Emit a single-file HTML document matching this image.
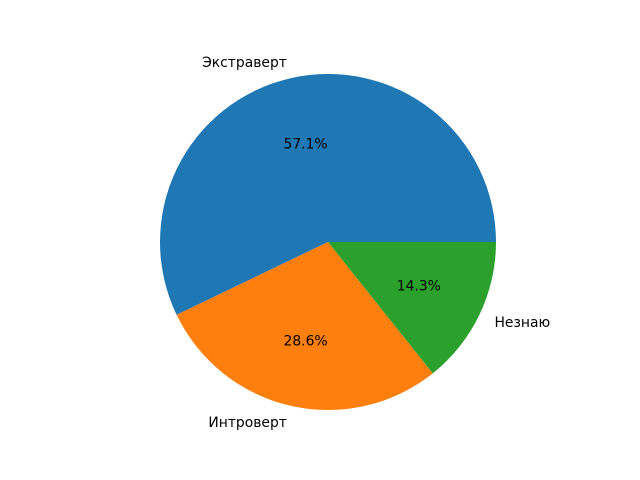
<!DOCTYPE html>
<html><head><meta charset="utf-8"><style>
body{margin:0;background:#fff;}
svg{display:block;font-family:"DejaVu Sans","Liberation Sans",sans-serif;}
</style></head><body>
<svg id="chart" width="640" height="480"></svg>
<script>
const categories = ["Экстраверт", "Интроверт", "Незнаю"];
const values = [4, 2, 1];
const colors = ["#1f77b4", "#ff7f0e", "#2ca02c"];
const cx = 328, cy = 242, r = 168;
const svg = document.getElementById('chart');
const NS = "http://www.w3.org/2000/svg";
const total = values.reduce((a, b) => a + b, 0);
function pt(ang, rad) { return [cx + rad * Math.cos(ang), cy - rad * Math.sin(ang)]; }
let start = 0;
values.forEach((v, i) => {
  const frac = v / total;
  const end = start + frac * 2 * Math.PI;
  const [x1, y1] = pt(start, r), [x2, y2] = pt(end, r);
  const large = frac > 0.5 ? 1 : 0;
  const p = document.createElementNS(NS, 'path');
  p.setAttribute('d', `M${cx},${cy} L${x1},${y1} A${r},${r} 0 ${large} 0 ${x2},${y2} Z`);
  p.setAttribute('fill', colors[i]);
  
  
  svg.appendChild(p);
  const mid = (start + end) / 2;
  const [lx, ly] = pt(mid, r * 1.1);
  const t = document.createElementNS(NS, 'text');
  t.setAttribute('x', lx); t.setAttribute('y', ly + 1);
  t.setAttribute('font-size', '13.9');
  t.setAttribute('dominant-baseline', 'central');
  t.setAttribute('text-anchor', Math.cos(mid) >= 0 ? 'start' : 'end');
  t.textContent = categories[i];
  
  
  svg.appendChild(t);
  const [px, py] = pt(mid, r * 0.6);
  const pc = document.createElementNS(NS, 'text');
  pc.setAttribute('x', px); pc.setAttribute('y', py + 1);
  pc.setAttribute('font-size', '13.9');
  pc.setAttribute('dominant-baseline', 'central');
  pc.setAttribute('text-anchor', 'middle');
  pc.textContent = (frac * 100).toFixed(1) + '%';
  
  
  svg.appendChild(pc);
  start = end;
});
</script>
</body></html>
